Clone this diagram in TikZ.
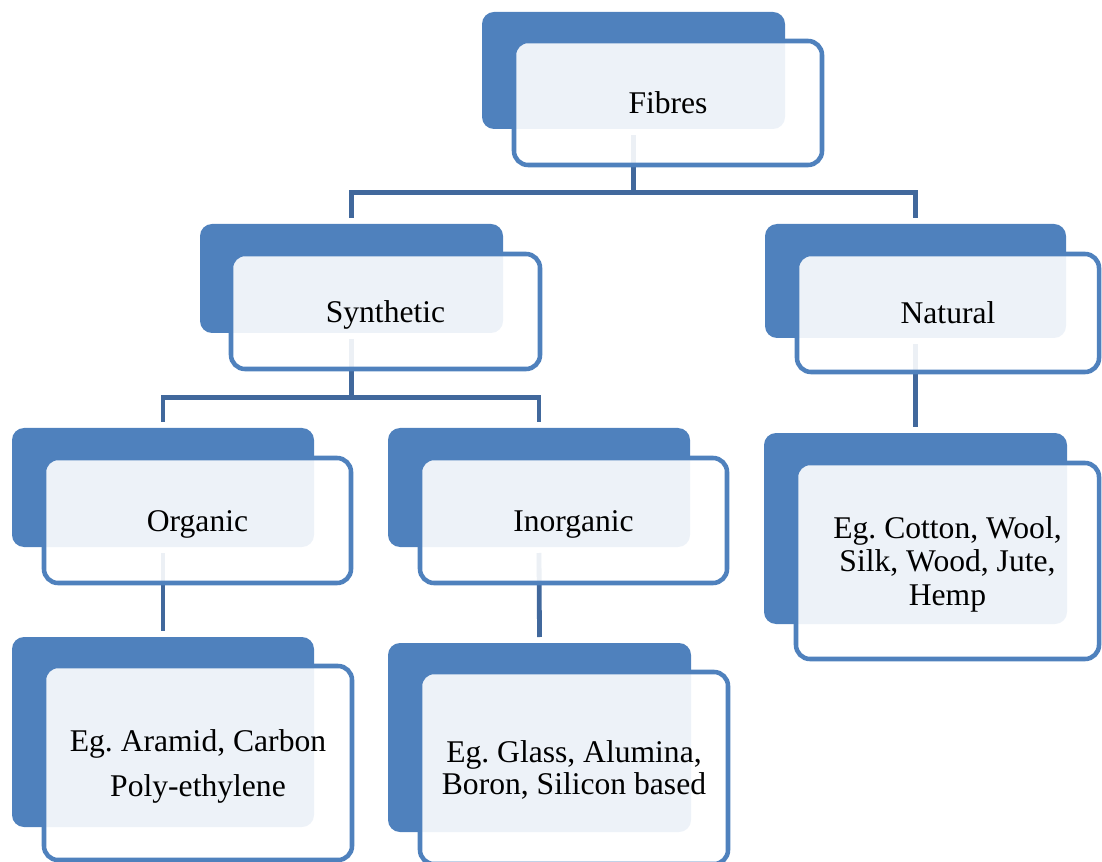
\documentclass[tikz,border=0pt]{standalone}
\usepackage{fontspec}
\setmainfont{Liberation Serif}
\frenchspacing
\usetikzlibrary{fit,calc}
\definecolor{acc}{HTML}{4F81BD}
\definecolor{lnk}{HTML}{41689C}
\newcommand\topst{\rule{0pt}{0.891em}}
\newcommand\botst{\rule[-0.216em]{0pt}{0.216em}}
\tikzset{
  backbox/.style={fill=acc, draw=none, rounded corners=9pt, inner sep=0pt, outer sep=0pt},
  frontbox/.style={draw=acc, line width=3.4pt, fill=white, fill opacity=0.9, text opacity=1,
    rounded corners=10.5pt, inner sep=0pt, outer sep=0pt, align=center,
    font=\fontsize{23.7}{25.1}\selectfont},
  link/.style={draw=lnk, line width=3.6pt},
}
% front box: name, x1, y1, x2, y2 (pixels), text
\newcommand\frontnode[6]{%
  \node[frontbox, minimum width={(#4-#2)*0.75pt}, minimum height={(#5-#3)*0.75pt}]
    (#1) at ({(#2+#4)/2},{(#3+#5)/2}) {\frenchspacing #6};}
\begin{document}
\begin{tikzpicture}[x=0.75pt,y=-0.75pt]
\path[use as bounding box, clip] (0,0) rectangle (1102,862);

% back boxes
\node[backbox, fit={(482,12) (785,129)}] (fibB) {};
\node[backbox, fit={(200,224) (503,333)}] (synB) {};
\node[backbox, fit={(765,224) (1066,338)}] (natB) {};
\node[backbox, fit={(12,428) (314,547)}] (orgB) {};
\node[backbox, fit={(388,428) (690,547)}] (inoB) {};
\node[backbox, fit={(12,637) (314,827)}] (orgLB) {};
\node[backbox, fit={(388,643) (691,832)}] (inoLB) {};
\node[backbox, fit={(764,433) (1067,624)}] (natLB) {};

% connectors
\coordinate (j1) at (633.5,192.5);
\coordinate (j2) at (351.5,397.5);
\draw[link] ($(fibB.south)+(0,6)$) -- (j1);
\draw[link] ($(synB.north)+(0,-6)$) |- (j1) -| ($(natB.north)+(0,-6)$);
\draw[link] ($(synB.south)+(0,6)$) -- (j2);
\draw[link] ($(orgB.north)+(0,-6)$) |- (j2) -| ($(inoB.north)+(0,-6)$);
\draw[link] ($(orgB.south)+(0,6)$) -- ($(orgLB.north)+(0,-6)$);
\draw[link] ($(inoB.south)+(0,6)$) -- ($(inoLB.north)+(0,-6)$);
\draw[link] ($(natB.south)+(0,6)$) -- ($(natLB.north)+(0,-6)$);

% front boxes
\frontnode{fibF}{514}{41}{822}{165}{\topst Fibres\botst}
\frontnode{synF}{231}{254}{540}{369}{\topst Synthetic\botst}
\frontnode{natF}{797}{254}{1099}{372}{\topst Natural\botst}
\frontnode{orgF}{44}{458}{351}{583}{\topst Organic\botst}
\frontnode{inoF}{420}{458}{727}{583}{\topst Inorganic\botst}
\frontnode{orgLF}{44}{666}{352}{860}{\topst Eg. Aramid, Carbon\\[8.6pt] Poly-ethylene\botst}
\frontnode{inoLF}{420}{672}{728}{864}{\topst Eg. Glass, Alumina,\\[-1.1pt] Boron, Silicon based\botst}
\frontnode{natLF}{796}{463}{1099}{659}{\topst Eg. Cotton, Wool,\\ Silk, Wood, Jute,\\ Hemp\botst}
\end{tikzpicture}
\end{document}
